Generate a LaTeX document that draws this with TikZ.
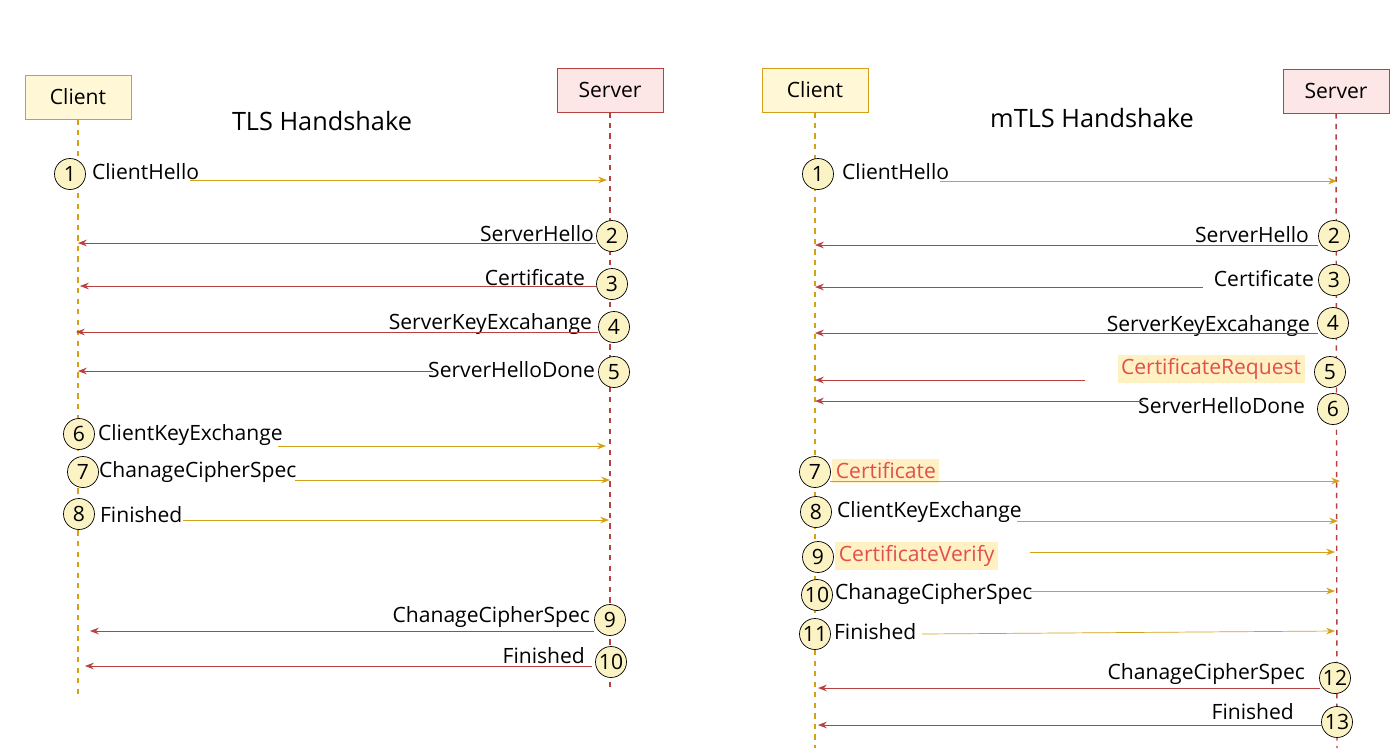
\documentclass[tikz,border=0pt]{standalone}
\usepackage{fontspec}
\setmainfont{Open Sans}
\usetikzlibrary{arrows.meta}
\definecolor{cligold}{HTML}{D4A017}
\definecolor{clifill}{HTML}{FFF7D6}
\definecolor{srvred}{HTML}{B8403F}
\definecolor{srvfill}{HTML}{FDE6E6}
\definecolor{stepfill}{HTML}{FCF3C4}
\definecolor{hlred}{HTML}{E0504F}
\definecolor{hlfill}{HTML}{FFF1C2}
\tikzset{
  actorC/.style={draw=cligold,fill=clifill,minimum width=2.12cm,minimum height=0.88cm,font=\large},
  actorS/.style={draw=srvred,fill=srvfill,minimum width=2.12cm,minimum height=0.88cm,font=\large},
  lifeC/.style={cligold,dashed,thick},
  lifeS/.style={srvred,dashed,thick},
  stepnum/.style={circle,draw,fill=stepfill,minimum size=0.62cm,inner sep=0pt,font=\large},
  msg/.style={font=\large,inner sep=1pt},
  hl/.style={font=\large,inner sep=2pt,fill=hlfill,text=hlred},
  toS/.style={cligold,-{Stealth[length=5pt]}},
  toC/.style={srvred,-{Stealth[length=5pt]}},
  heading/.style={font=\Large}
}
\begin{document}
\begin{tikzpicture}[x=0.02cm,y=-0.02cm]
\useasboundingbox (0,0) rectangle (1400,755);

% TLS
\node[actorC] (cl) at (78,97) {Client};
\node[actorS] (sl) at (610,90) {Server};
\node[heading] (tl) at (322,121) {TLS Handshake};
\coordinate (clend) at (78,695);
\coordinate (slend) at (610,690);
\draw[lifeC] (cl) -- (clend);
\draw[lifeS] (sl) -- (slend);

\node[stepnum] (l1) at (70,174) {1};
\node[msg,anchor=west] (lm1) at (90,172) {ClientHello};
\coordinate (la1) at (190,180); \coordinate (lb1) at (607,180);
\draw[toS] (la1) -- (lb1);

\node[stepnum] (l2) at (612,236) {2};
\node[msg,anchor=east] (lm2) at (596,234) {ServerHello};
\coordinate (la2) at (596,243); \coordinate (lb2) at (78,243);
\draw[toC] (la2) -- (lb2);

\node[stepnum] (l3) at (612,284) {3};
\node[msg,anchor=east] (lm3) at (587,278) {Certificate};
\coordinate (la3) at (596,286); \coordinate (lb3) at (80,286);
\draw[toC] (la3) -- (lb3);

\node[stepnum] (l4) at (614,327) {4};
\node[msg,anchor=east] (lm4) at (594,324) {ServerKeyExcahange};
\coordinate (la4) at (598,332); \coordinate (lb4) at (76,332);
\draw[toC] (la4) -- (lb4);

\node[stepnum] (l5) at (614,372) {5};
\node[msg,anchor=east] (lm5) at (597,370) {ServerHelloDone};
\coordinate (la5) at (433,371); \coordinate (lb5) at (78,371);
\draw[toC] (la5) -- (lb5);

\node[stepnum] (l6) at (79,434) {6};
\node[msg,anchor=west] (lm6) at (96,435) {ClientKeyExchange};
\coordinate (la6) at (278,446); \coordinate (lb6) at (606,446);
\draw[toS] (la6) -- (lb6);

\node[stepnum] (l7) at (83,472) {7};
\node[msg,anchor=west] (lm7) at (97,472) {ChanageCipherSpec};
\coordinate (la7) at (295,480); \coordinate (lb7) at (610,480);
\draw[toS] (la7) -- (lb7);

\node[stepnum] (l8) at (79,514) {8};
\node[msg,anchor=west] (lm8) at (98,515) {Finished};
\coordinate (la8) at (183,520); \coordinate (lb8) at (609,520);
\draw[toS] (la8) -- (lb8);

\node[stepnum] (l9) at (610,620) {9};
\node[msg,anchor=east] (lm9) at (592,617) {ChanageCipherSpec};
\coordinate (la9) at (594,631); \coordinate (lb9) at (90,631);
\draw[toC] (la9) -- (lb9);

\node[stepnum] (l10) at (611,662) {10};
\node[msg,anchor=east] (lm10) at (587,656) {Finished};
\coordinate (la10) at (592,666); \coordinate (lb10) at (85,666);
\draw[toC] (la10) -- (lb10);

% mTLS
\node[actorC] (cr) at (815,90) {Client};
\node[actorS] (sr) at (1336,91) {Server};
\node[heading] (tr) at (1092,118) {mTLS Handshake};
\coordinate (crend) at (815,748);
\coordinate (srend) at (1337,748);
\draw[lifeC] (cr) -- (crend);
\draw[lifeS] (sr) -- (srend);

\node[stepnum] (r1) at (818,174) {1};
\node[msg,anchor=west] (rm1) at (840,172) {ClientHello};
\coordinate (ra1) at (940,181); \coordinate (rb1) at (1337,181);
\draw[toS] (ra1) -- (rb1);

\node[stepnum] (r2) at (1334,236) {2};
\node[msg,anchor=east] (rm2) at (1311,235) {ServerHello};
\coordinate (ra2) at (1318,245); \coordinate (rb2) at (815,245);
\draw[toC] (ra2) -- (rb2);

\node[stepnum] (r3) at (1334,280) {3};
\node[msg,anchor=east] (rm3) at (1316,279) {Certificate};
\coordinate (ra3) at (1203,287); \coordinate (rb3) at (815,287);
\draw[toC] (ra3) -- (rb3);

\node[stepnum] (r4) at (1333,323) {4};
\node[msg,anchor=east] (rm4) at (1312,326) {ServerKeyExcahange};
\coordinate (ra4) at (1318,333); \coordinate (rb4) at (815,333);
\draw[toC] (ra4) -- (rb4);

\node[stepnum] (r5) at (1330,372) {5};
\node[hl,anchor=east] (rm5) at (1305,369) {CertificateRequest};
\coordinate (ra5) at (1085,380); \coordinate (rb5) at (815,380);
\draw[toC] (ra5) -- (rb5);

\node[stepnum] (r6) at (1333,409) {6};
\node[msg,anchor=east] (rm6) at (1307,406) {ServerHelloDone};
\coordinate (ra6) at (1143,401); \coordinate (rb6) at (815,401);
\draw[toC] (ra6) -- (rb6);

\node[stepnum] (r7) at (815,472) {7};
\node[hl,anchor=west] (rm7) at (832,471) {Certificate};
\coordinate (ra7) at (830,481); \coordinate (rb7) at (1340,481);
\draw[toS] (ra7) -- (rb7);

\node[stepnum] (r8) at (816,512) {8};
\node[msg,anchor=west] (rm8) at (835,512) {ClientKeyExchange};
\coordinate (ra8) at (1017,521); \coordinate (rb8) at (1338,521);
\draw[toS] (ra8) -- (rb8);

\node[stepnum] (r9) at (818,557) {9};
\node[hl,anchor=west] (rm9) at (835,556) {CertificateVerify};
\coordinate (ra9) at (1030,552); \coordinate (rb9) at (1335,552);
\draw[toS] (ra9) -- (rb9);

\node[stepnum] (r10) at (817,595) {10};
\node[msg,anchor=west] (rm10) at (833,594) {ChanageCipherSpec};
\coordinate (ra10) at (1030,591); \coordinate (rb10) at (1335,591);
\draw[toS] (ra10) -- (rb10);

\node[stepnum] (r11) at (815,634) {11};
\node[msg,anchor=west] (rm11) at (832,632) {Finished};
\coordinate (ra11) at (922,634); \coordinate (rb11) at (1335,631);
\draw[toS] (ra11) -- (rb11);

\node[stepnum] (r12) at (1335,678) {12};
\node[msg,anchor=east] (rm12) at (1307,674) {ChanageCipherSpec};
\coordinate (ra12) at (1320,688); \coordinate (rb12) at (818,688);
\draw[toC] (ra12) -- (rb12);

\node[stepnum] (r13) at (1337,722) {13};
\node[msg,anchor=east] (rm13) at (1296,712) {Finished};
\coordinate (ra13) at (1322,725); \coordinate (rb13) at (818,725);
\draw[toC] (ra13) -- (rb13);
\end{tikzpicture}
\end{document}
